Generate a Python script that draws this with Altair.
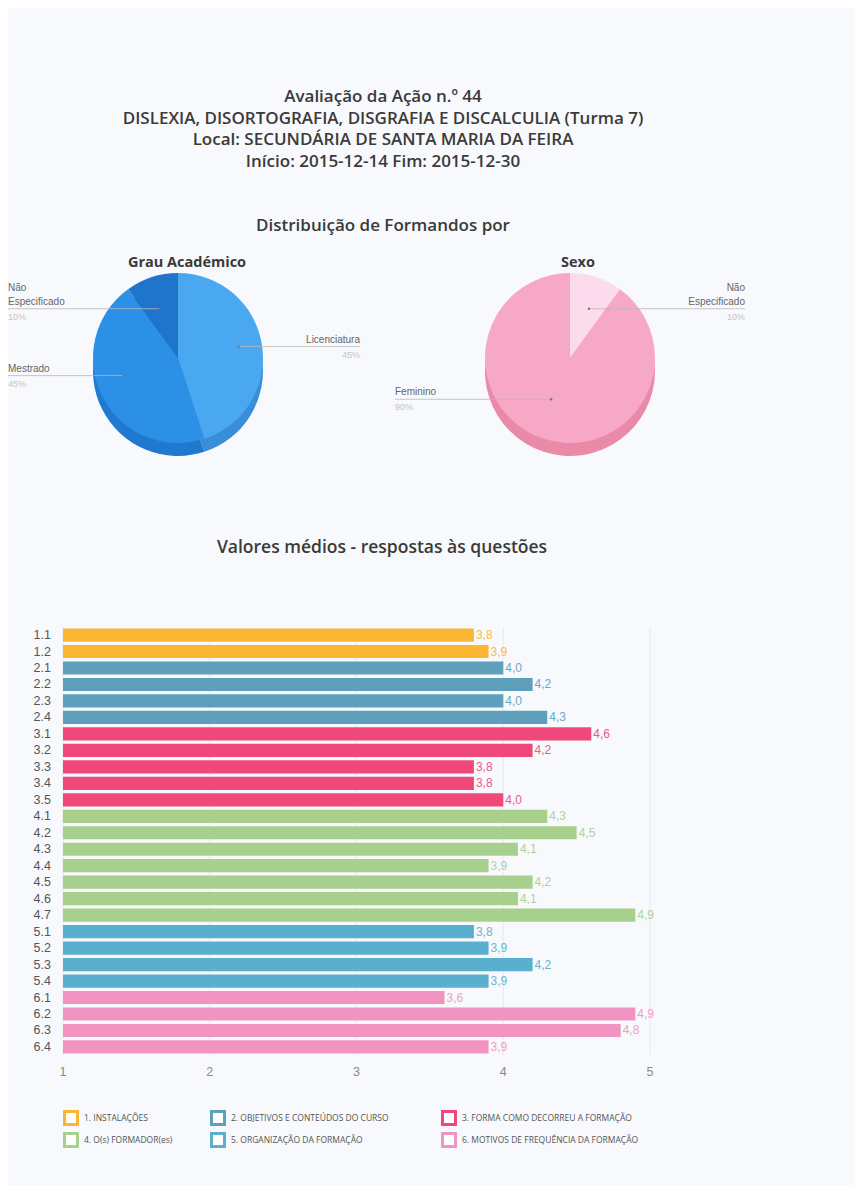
import math
import altair as alt
import pandas as pd

# ---------------- data ----------------
TITLE_LINES = [
    "Avaliação da Ação n.º 44",
    "DISLEXIA, DISORTOGRAFIA, DISGRAFIA E DISCALCULIA (Turma 7)",
    "Local: SECUNDÁRIA DE SANTA MARIA DA FEIRA",
    "Início: 2015-12-14  Fim: 2015-12-30",
]
PIE_SECTION_TITLE = "Distribuição de Formandos por"

GRAU_TITLE = "Grau Académico"
GRAU_CATS = ["Licenciatura", "Mestrado", "Não Especificado"]
GRAU_PCT = [45, 45, 10]

SEXO_TITLE = "Sexo"
SEXO_CATS = ["Não Especificado", "Feminino"]
SEXO_PCT = [10, 90]

BAR_TITLE = "Valores médios - respostas às questões"
QUESTIONS = ["1.1", "1.2",
             "2.1", "2.2", "2.3", "2.4",
             "3.1", "3.2", "3.3", "3.4", "3.5",
             "4.1", "4.2", "4.3", "4.4", "4.5", "4.6", "4.7",
             "5.1", "5.2", "5.3", "5.4",
             "6.1", "6.2", "6.3", "6.4"]
VALUES = [3.8, 3.9,
          4.0, 4.2, 4.0, 4.3,
          4.6, 4.2, 3.8, 3.8, 4.0,
          4.3, 4.5, 4.1, 3.9, 4.2, 4.1, 4.9,
          3.8, 3.9, 4.2, 3.9,
          3.6, 4.9, 4.8, 3.9]
GROUPS = ["1. INSTALAÇÕES",
          "2. OBJETIVOS E CONTEÚDOS DO CURSO",
          "3. FORMA COMO DECORREU A FORMAÇÃO",
          "4. O(s) FORMADOR(es)",
          "5. ORGANIZAÇÃO DA FORMAÇÃO",
          "6. MOTIVOS DE FREQUÊNCIA DA FORMAÇÃO"]
X_TICKS = [1, 2, 3, 4, 5]

# ---------------- styles / layout ----------------
W, H = 846, 1177
BG = "#f7f9fc"
TITLE_FONT = "Open Sans"
LABEL_FONT = "Liberation Sans"
TITLE_COLOR = "#3a3a3a"
GROUP_COLORS = ["#fbb733", "#5e9fbc", "#f0487b", "#a7d08c", "#5aafce", "#f294c2"]
GRAU_TOP = ["#4aa8f0", "#2b90e6", "#1f74cc"]
GRAU_SIDE = ["#3a8ed9", "#2178cf", "#1a5fae"]
SEXO_TOP = ["#fcdcec", "#f7a8c6"]
SEXO_SIDE = ["#efc3d7", "#e98aa9"]
R = 85
DEPTH = 13
GRAU_C = (170, 350)
SEXO_C = (562, 350)
GRAU_EDGES = (0, 352)      # left / right label column
SEXO_EDGES = (387, 737)
ANCHOR_RX, ANCHOR_RY, ANCHOR_SHIFT = 0.72, 0.56, -4   # label anchor on the (perspective) top face

X_RANGE = [55, 642]
Y_RANGE = [618.8, 1047.2]
LEGEND_COL_X = [63, 210, 441]   # symbol centres (chart px)
LEGEND_ROW_Y = [1110, 1132]

# ---------------- header texts ----------------
layers = []
layers.append(
    alt.Chart(pd.DataFrame({"t": ["\n".join(TITLE_LINES)]})).mark_text(
        font=TITLE_FONT, fontSize=17, fontWeight=600, color=TITLE_COLOR,
        align="center", baseline="top", lineBreak="\n", lineHeight=21.5
    ).encode(x=alt.value(375), y=alt.value(81), text="t:N")
)

def title_text(txt, x, y, size, weight):
    return alt.Chart(pd.DataFrame({"t": [txt]})).mark_text(
        font=TITLE_FONT, fontSize=size, fontWeight=weight, color=TITLE_COLOR,
        align="center", baseline="middle"
    ).encode(x=alt.value(x), y=alt.value(y), text="t:N")

layers.append(title_text(PIE_SECTION_TITLE, 375, 218, 17, 600))
layers.append(title_text(GRAU_TITLE, 179, 255, 14.5, 700))
layers.append(title_text(SEXO_TITLE, 570, 255, 14.5, 700))
layers.append(title_text(BAR_TITLE, 374, 540, 17.5, 600))

# ---------------- pies ----------------
def pie_layers(cats, pcts, top_cols, side_cols, center):
    df = pd.DataFrame({"cat": cats, "pct": pcts, "ord": list(range(len(cats)))})
    out = []
    for cols, dy in ((side_cols, DEPTH), (top_cols, 0)):
        out.append(
            alt.Chart(df).mark_arc(radius=R).encode(
                theta=alt.Theta("pct:Q", stack=True),
                order=alt.Order("ord:Q"),
                color=alt.Color("cat:N", scale=alt.Scale(domain=cats, range=cols), legend=None),
                x=alt.value(center[0]),
                y=alt.value(center[1] + dy),
            )
        )
    return out

layers += pie_layers(GRAU_CATS, GRAU_PCT, GRAU_TOP, GRAU_SIDE, GRAU_C)
layers += pie_layers(SEXO_CATS, SEXO_PCT, SEXO_TOP, SEXO_SIDE, SEXO_C)

# label anchors derived from slice mid-angles
rows, words = [], []
for cats, pcts, c, edges in ((GRAU_CATS, GRAU_PCT, GRAU_C, GRAU_EDGES),
                             (SEXO_CATS, SEXO_PCT, SEXO_C, SEXO_EDGES)):
    cum = 0
    total = sum(pcts)
    for cat, p in zip(cats, pcts):
        ang = 2 * math.pi * (cum + p / 2) / total
        cum += p
        dx = c[0] + ANCHOR_RX * R * math.sin(ang)
        dy = c[1] + ANCHOR_SHIFT - ANCHOR_RY * R * math.cos(ang)
        right = math.sin(ang) > 0
        side = "R" if right else "L"
        ex = edges[1] if right else edges[0]
        rows.append({"cat": cat, "pct": f"{p}%", "dx": dx, "dy": dy, "ex": ex, "side": side})
        parts = cat.split(" ")
        for i, w in enumerate(parts):
            words.append({"w": w, "ex": ex, "side": side,
                          "wy": dy - 2 - (len(parts) - 1 - i) * 14})
lab = pd.DataFrame(rows)
wl = pd.DataFrame(words)

layers.append(
    alt.Chart(lab).mark_rule(color="#b8b8b8", strokeWidth=0.8).encode(
        x=alt.X("dx:Q", scale=None), x2="ex:Q", y=alt.Y("dy:Q", scale=None)
    )
)
layers.append(
    alt.Chart(lab).mark_circle(color="#777", size=6, opacity=1).encode(
        x=alt.X("dx:Q", scale=None), y=alt.Y("dy:Q", scale=None)
    )
)
for side, align in (("L", "left"), ("R", "right")):
    layers.append(
        alt.Chart(wl[wl["side"] == side]).mark_text(
            font=LABEL_FONT, fontSize=10, color="#666", align=align, baseline="bottom"
        ).encode(x=alt.X("ex:Q", scale=None), y=alt.Y("wy:Q", scale=None), text="w:N")
    )
    layers.append(
        alt.Chart(lab[lab["side"] == side]).mark_text(
            font=LABEL_FONT, fontSize=9, color="#c4c4c4", align=align, baseline="top", dy=4
        ).encode(x=alt.X("ex:Q", scale=None), y=alt.Y("dy:Q", scale=None), text="pct:N")
    )

# ---------------- bars ----------------
bars = pd.DataFrame({
    "q": QUESTIONS,
    "v": VALUES,
    "g": [GROUPS[int(q.split(".")[0]) - 1] for q in QUESTIONS],
    "lbl": [f"{v:.1f}".replace(".", ",") for v in VALUES],
})
xs = alt.Scale(domain=[1, 5], range=X_RANGE)
ys = alt.Scale(domain=QUESTIONS, range=Y_RANGE, paddingInner=0.2, paddingOuter=0.1)
cscale = alt.Scale(domain=GROUPS, range=GROUP_COLORS)

layers.append(
    alt.Chart(pd.DataFrame({"t": X_TICKS})).mark_rule(color="#e6e9ee", strokeWidth=1).encode(
        x=alt.X("t:Q", scale=xs, axis=None), y=alt.value(Y_RANGE[0]), y2=alt.value(Y_RANGE[1])
    )
)
layers.append(
    alt.Chart(bars).mark_bar().encode(
        x=alt.X("v:Q", scale=xs, axis=None),
        x2=alt.datum(1),
        y=alt.Y("q:N", scale=ys, axis=None, sort=QUESTIONS),
        color=alt.Color("g:N", scale=cscale, legend=None),
    )
)
layers.append(
    alt.Chart(bars).mark_text(font=LABEL_FONT, fontSize=12, align="left",
                              baseline="middle", dx=2, opacity=0.9).encode(
        x=alt.X("v:Q", scale=xs, axis=None),
        y=alt.Y("q:N", scale=ys, axis=None, sort=QUESTIONS),
        text="lbl:N",
        color=alt.Color("g:N", scale=cscale, legend=None),
    )
)
layers.append(
    alt.Chart(bars).mark_text(font=LABEL_FONT, fontSize=12.5, align="right",
                              baseline="middle", color="#555").encode(
        x=alt.value(43),
        y=alt.Y("q:N", scale=ys, axis=None, sort=QUESTIONS),
        text="q:N",
    )
)
layers.append(
    alt.Chart(pd.DataFrame({"t": X_TICKS})).mark_text(
        font=LABEL_FONT, fontSize=12.5, align="center", baseline="middle", color="#8a8a8a"
    ).encode(x=alt.X("t:Q", scale=xs, axis=None), y=alt.value(1064), text="t:Q")
)

# ---------------- legend (hollow coloured squares) ----------------
leg = pd.DataFrame({
    "g": GROUPS,
    "lx": [LEGEND_COL_X[i % 3] for i in range(len(GROUPS))],
    "ly": [LEGEND_ROW_Y[i // 3] for i in range(len(GROUPS))],
})
layers.append(
    alt.Chart(leg).mark_square(size=169, fill="white", strokeWidth=3, opacity=1).encode(
        x=alt.X("lx:Q", scale=None), y=alt.Y("ly:Q", scale=None),
        stroke=alt.Stroke("g:N", scale=cscale, legend=None),
    )
)
layers.append(
    alt.Chart(leg).mark_text(font=TITLE_FONT, fontSize=8.5, color="#555",
                             align="left", baseline="middle", dx=13).encode(
        x=alt.X("lx:Q", scale=None), y=alt.Y("ly:Q", scale=None), text="g:N"
    )
)

chart = alt.layer(*layers).resolve_scale(
    x="independent", y="independent", theta="independent",
    color="independent", stroke="independent"
).properties(
    width=W, height=H, background=BG, padding=0,
    autosize=alt.AutoSizeParams(type="none")
).configure_view(stroke=None)

chart.save("out.html", embed_options={"renderer": "svg", "actions": False})
